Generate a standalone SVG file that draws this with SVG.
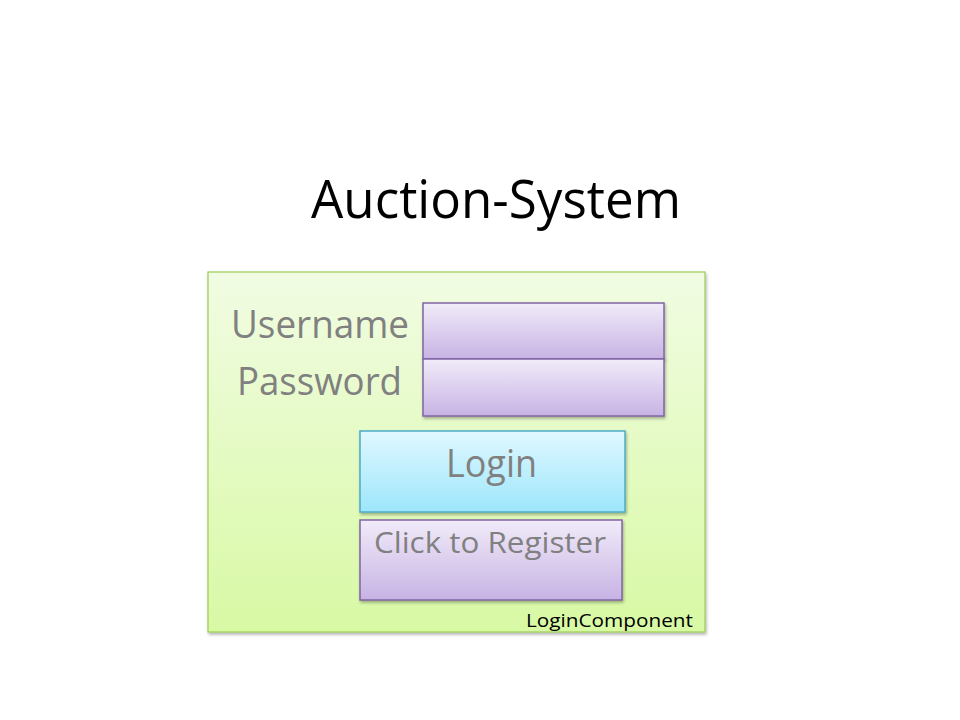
<svg xmlns="http://www.w3.org/2000/svg" width="960" height="720" viewBox="0 0 960 720">
<defs>
<linearGradient id="gGreen" x1="0" y1="0" x2="0" y2="1"><stop offset="0" stop-color="#f1fce3"/><stop offset="1" stop-color="#d8f9a4"/></linearGradient>
<linearGradient id="gPurple" x1="0" y1="0" x2="0" y2="1"><stop offset="0" stop-color="#f1ebf9"/><stop offset="1" stop-color="#c7b3e4"/></linearGradient>
<linearGradient id="gBlue" x1="0" y1="0" x2="0" y2="1"><stop offset="0" stop-color="#e0f8ff"/><stop offset="1" stop-color="#9de6fb"/></linearGradient>
<filter id="sh" x="-5%" y="-5%" width="112%" height="115%"><feDropShadow dx="1" dy="2" stdDeviation="1.5" flood-color="#000" flood-opacity="0.3"/></filter>
</defs>
<style>
.lbl{font-family:"Open Sans","Noto Sans",sans-serif;fill:#808080}
.purple{fill:url(#gPurple);stroke:#8064a2;stroke-width:1.5}
</style>
<rect width="960" height="720" fill="#fff"/>
<text x="311" y="218" font-family="'Open Sans','Noto Sans',sans-serif" font-size="53" fill="#000" textLength="370" lengthAdjust="spacingAndGlyphs">Auction-System</text>
<g id="loginComponent">
<rect x="208" y="272" width="497" height="360" fill="url(#gGreen)" stroke="#9bcb55" stroke-width="1.2" filter="url(#sh)"/>
<text x="526" y="627" font-family="'Open Sans','Noto Sans',sans-serif" font-size="19" fill="#000" textLength="167" lengthAdjust="spacingAndGlyphs">LoginComponent</text>
</g>
<g id="usernameLabel"><text class="lbl" x="231" y="338" font-size="38.5" textLength="178" lengthAdjust="spacingAndGlyphs">Username</text></g>
<g id="passwordLabel"><text class="lbl" x="237" y="395" font-size="38.5" textLength="165" lengthAdjust="spacingAndGlyphs">Password</text></g>
<g id="usernameField"><rect class="purple" x="423" y="303" width="241" height="56" filter="url(#sh)"/></g>
<g id="passwordField"><rect class="purple" x="423" y="359" width="241" height="57" filter="url(#sh)"/></g>
<g id="loginButton">
<rect x="360" y="431" width="265" height="81" fill="url(#gBlue)" stroke="#4bacc6" stroke-width="1.5" filter="url(#sh)"/>
<text class="lbl" x="446" y="477" font-size="38.5" textLength="91" lengthAdjust="spacingAndGlyphs">Login</text>
</g>
<g id="registerButton">
<rect class="purple" x="360" y="520" width="262" height="80" filter="url(#sh)"/>
<text class="lbl" x="374" y="553" font-size="30" textLength="232" lengthAdjust="spacingAndGlyphs">Click to Register</text>
</g>
<g id="connectors"/>
</svg>
